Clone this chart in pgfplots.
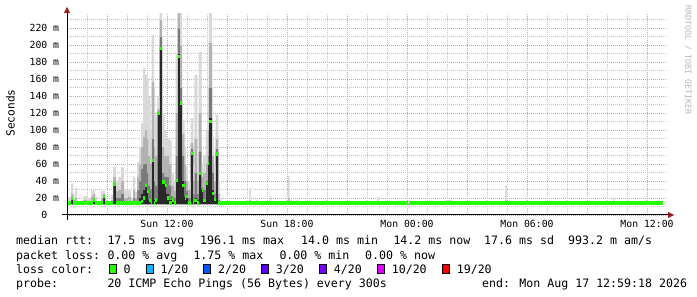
\documentclass[border=0pt]{standalone}
\usepackage{fontspec}
\setmainfont{DejaVu Sans Mono}
\usepackage{pgfplots}
\usepackage{pgfplotstable}
\pgfplotsset{compat=1.18}

% loss colours
\definecolor{loss0}{HTML}{26FF00}
\definecolor{loss1}{HTML}{00B8FF}
\definecolor{loss2}{HTML}{0059FF}
\definecolor{loss3}{HTML}{5E00FF}
\definecolor{loss4}{HTML}{7E00FF}
\definecolor{loss10}{HTML}{DD00FF}
\definecolor{loss19}{HTML}{FF0000}
% smoke shades, lightest (max) to darkest (near median)
\definecolor{smokeA}{HTML}{D8D8D8}
\definecolor{smokeB}{HTML}{B2B2B2}
\definecolor{smokeC}{HTML}{7A7A7A}
\definecolor{smokeD}{HTML}{282828}
\definecolor{gridminor}{HTML}{C4C4C4}
\definecolor{gridmajor}{HTML}{E89A9A}
\definecolor{arrowred}{HTML}{A01818}

\newcommand\axisfont{\fontsize{9.8bp}{11bp}\selectfont}
\newcommand\legfont{\fontsize{11.6bp}{13bp}\selectfont}

% t in hours since Sun 00:00; values in ms
% lo = lower edge of smoke, dk = inner quantile, m2/m1 = outer quantiles,
% hi = max ping, med = median
\pgfplotstableread{
t      lo   dk   m2   m1   hi   med
7.000  12.5 14   14   17   21   14.2
7.200  12.5 19   21   25   37   19.6
7.300  12.5 14   14   18   24   14.2
7.400  12.5 14   15   20   32   14.2
7.500  12.5 14   14   14   14   14.2
7.800  12.5 14   15   18   22   14.2
8.000  12.5 14   14   16   20   14.2
8.200  12.5 14   16   22   29   14.2
8.300  12.5 18   20   25   29   17.7
8.400  12.5 14   14   17   22   14.2
8.500  12.5 14   14   14   14   14.2
8.700  12.5 14   16   20   28   14.2
8.800  12.5 21   22   25   28   21.6
8.900  12.5 14   14   16   20   14.2
9.000  12.5 14   14   14   14   14.2
9.200  12.5 14   15   18   24   14.2
9.300  12.5 37   38   45   57   36.5
9.450  12.5 15   20   28   40   14.2
9.550  12.5 15   20   30   45   14.2
9.700  12.5 15   25   40   56   14.2
9.850  12.5 14   15   20   30   14.2
10.050 12.5 14   17   22   29   14.2
10.200 12.5 14   14   16   20   14.2
10.300 12.5 15   20   30   45   14.2
10.400 12.5 14   15   20   27   14.2
10.500 12.5 17   30   45   62   14.2
10.600 12.5 20   40   60   80   14.2
10.700 12.5 25   55   80   108  16
10.800 12.5 30   60   92   173  20
10.900 12.5 37   60   100  165  35
11.000 12.5 28   50   90   161  27.5
11.075 12.5 18   35   70   139  17
11.175 12.5 15   30   60   100  14.2
11.225 12.5 66   90   157  212  64
11.350 12.5 18   40   80   150  14.2
11.400 12.5 18   35   70   118  17.7
11.515 12.5 121  122  125  140  120
11.625 12.5 198  210  230  240  196
11.750 12.5 40   50   80   120  39
11.875 12.5 36   45   70   100  35
11.975 12.5 25   45   70   90   20
12.100 12.5 18   35   60   88   14.2
12.225 12.5 18   22   35   49   17.7
12.350 12.5 15   20   28   40   14.2
12.425 12.5 42   70   120  190  41
12.525 12.5 190  220  240  240  187
12.650 12.5 134  150  200  240  132
12.750 12.5 40   70   96   112  35
12.875 12.5 22   40   60   80   20
12.950 12.5 22   28   40   57   22
13.050 12.5 15   20   30   40   14.2
13.175 12.5 74   78   85   114  72.7
13.315 12.5 15   25   40   60   14.2
13.365 12.5 20   50   90   165  17
13.515 12.5 18   25   40   60   14.2
13.575 12.5 50   75   120  192  49
13.725 12.5 30   32   45   60   29
13.800 12.5 18   30   50   70   17
13.925 12.5 38   40   60   100  37
14.025 12.5 62   70   100  150  61
14.090 12.5 115  150  203  240  110
14.250 12.5 30   50   70   92   25
14.350 12.5 20   25   40   60   18
14.435 12.5 74   78   90   118  72
14.565 12.5 15   18   25   40   14.2
14.650 12.5 14   14   14   14   14.2
16.100 12.5 14   14   18   32   14.2
16.175 12.5 14   14   14   14   14.2
16.450 12.5 14   14   14   18   14.2
16.525 12.5 14   14   14   14   14.2
16.775 12.5 14   14   14   17   14.2
16.850 12.5 14   14   14   14   14.2
17.125 12.5 14   14   14   23   14.2
17.200 12.5 14   14   14   14   14.2
18.050 12.5 14   15   20   46   14.2
18.125 12.5 14   14   14   14   14.2
18.175 12.5 14   14   14   18   14.2
18.250 12.5 14   14   14   14   14.2
18.475 12.5 14   14   14   18   14.2
18.550 12.5 14   14   14   14   14.2
19.950 12.5 14   14   14   18   14.2
20.025 12.5 14   14   14   14   14.2
22.500 12.5 14   14   14   21   14.2
22.575 12.5 14   14   14   14   14.2
23.500 12.5 14   14   14   17   14.2
23.900 12.5 14   14   14   14   14.2
24.030 12.5 12.5 12.5 12.5 12.5 -10
24.080 12.5 14   14   14   14   14.2
25.150 12.5 14   14   14   17   14.2
25.300 12.5 14   14   14   14   14.2
25.950 12.5 14   14   14   17.5 14.2
26.250 12.5 14   14   14   14   14.2
28.900 12.5 14   14   18   35   14.2
28.975 12.5 14   14   14   14   14.2
34.300 12.5 14   14   14   20   14.2
34.375 12.5 14   14   14   14   14.2
35.000 12.5 14   14   14   18   14.2
35.075 12.5 14   14   14   14   14.2
35.950 12.5 14   14   14   18   14.2
36.025 12.5 14   14   14   14   14.2
36.800 12.5 14   14   14   14   14.2
}\rtt

\begin{document}
\begin{tikzpicture}
\path[use as bounding box, fill=white] (0bp,0bp) rectangle (697bp,297bp);

\begin{axis}[
  at={(67bp,82bp)}, anchor=south west,
  scale only axis, width=600bp, height=201.1bp,
  xmin=7, xmax=37, ymin=0, ymax=237,
  enlargelimits=false,
  axis line style={draw=none},
  major tick length=0pt, minor tick length=0pt,
  xtick={9,12,...,36},
  xticklabels={,Sun 12:00,,Sun 18:00,,Mon 00:00,,Mon 06:00,,Mon 12:00},
  minor xtick={8,10,11,13,14,16,17,19,20,22,23,25,26,28,29,31,32,34,35},
  ytick={0,20,...,220},
  yticklabels={0\phantom{\ m},20 m,40 m,60 m,80 m,100 m,120 m,140 m,160 m,180 m,200 m,220 m},
  minor ytick={10,30,...,230},
  grid=both,
  major grid style={gridmajor, line width=0.8bp, dash pattern=on 1bp off 1bp},
  minor grid style={gridminor, line width=0.8bp, dash pattern=on 1bp off 1bp},
  xticklabel style={font=\axisfont, anchor=base, inner sep=0pt, yshift=-13bp},
  yticklabel style={font=\axisfont, anchor=base east, inner sep=0pt, xshift=-7.7bp, yshift=-3.4bp},
  smoke/.style={stack plots=y, const plot, draw=none, forget plot},
]
  % smoke, stacked upwards from its lower edge
  \addplot[smoke] table[x=t, y=lo]{\rtt};
  \addplot[smoke, fill=smokeD] table[x=t, y expr=\thisrow{dk}-\thisrow{lo}]{\rtt} \closedcycle;
  \addplot[smoke, fill=smokeC] table[x=t, y expr=\thisrow{m2}-\thisrow{dk}]{\rtt} \closedcycle;
  \addplot[smoke, fill=smokeB] table[x=t, y expr=\thisrow{m1}-\thisrow{m2}]{\rtt} \closedcycle;
  \addplot[smoke, fill=smokeA] table[x=t, y expr=\thisrow{hi}-\thisrow{m1}]{\rtt} \closedcycle;

  % median, coloured by loss (no loss here)
  \addplot[loss0, line width=3.2bp, jump mark left, mark=none, stack plots=false] table[x=t, y=med]{\rtt};
\end{axis}

% axes with arrow heads
\draw[black, line width=1bp] (62bp,82bp) -- (668bp,82bp);
\fill[arrowred] (668bp,79bp) -- (674bp,82bp) -- (668bp,85bp) -- cycle;
\draw[black, line width=1bp] (67bp,77bp) -- (67bp,284bp);
\fill[arrowred] (64bp,284bp) -- (67bp,290bp) -- (70bp,284bp) -- cycle;

% unit label
\node[rotate=90, font=\fontsize{11.2bp}{13bp}\selectfont, inner sep=0pt] at (10.5bp,184bp) {Seconds};

% watermark
\node[rotate=-90, text=black!28, font=\fontsize{8.3bp}{9bp}\selectfont, inner sep=0pt] at (688bp,237bp) {RRDTOOL / TOBI OETIKER};

% legend
\begin{scope}[every node/.style={anchor=base west, inner sep=0pt, font=\legfont}]
  \node at (16bp,52bp) {median rtt:};
  \node at (107.3bp,52bp) {17.5 ms avg};
  \node at (200bp,52bp) {196.1 ms max};
  \node at (301bp,52bp) {14.0 ms min};
  \node at (393.3bp,52bp) {14.2 ms now};
  \node at (484bp,52bp) {17.6 ms sd};
  \node at (568bp,52bp) {993.2 m am/s};

  \node at (16bp,38bp) {packet loss:};
  \node at (107.3bp,38bp) {0.00 \% avg};
  \node at (193.3bp,38bp) {1.75 \% max};
  \node at (279.3bp,38bp) {0.00 \% min};
  \node at (365bp,38bp) {0.00 \% now};

  \node at (16bp,24bp) {loss color:};
  \filldraw[fill=loss0, draw=black, line width=1bp] (109.2bp,23.5bp) rectangle ++(7bp,8.5bp);
  \node at (123.3bp,24bp) {0};
  \filldraw[fill=loss1, draw=black, line width=1bp] (146.2bp,23.5bp) rectangle ++(7bp,8.5bp);
  \node at (160.3bp,24bp) {1/20};
  \filldraw[fill=loss2, draw=black, line width=1bp] (203.8bp,23.5bp) rectangle ++(7bp,8.5bp);
  \node at (217.9bp,24bp) {2/20};
  \filldraw[fill=loss3, draw=black, line width=1bp] (261.5bp,23.5bp) rectangle ++(7bp,8.5bp);
  \node at (275.6bp,24bp) {3/20};
  \filldraw[fill=loss4, draw=black, line width=1bp] (319.5bp,23.5bp) rectangle ++(7bp,8.5bp);
  \node at (333.6bp,24bp) {4/20};
  \filldraw[fill=loss10, draw=black, line width=1bp] (377.5bp,23.5bp) rectangle ++(7bp,8.5bp);
  \node at (391.6bp,24bp) {10/20};
  \filldraw[fill=loss19, draw=black, line width=1bp] (442.5bp,23.5bp) rectangle ++(7bp,8.5bp);
  \node at (456.6bp,24bp) {19/20};

  \node at (16bp,10bp) {probe:};
  \node at (107.3bp,10bp) {20 ICMP Echo Pings (56 Bytes) every 300s};
  \node at (482bp,10bp) {end: Mon Aug 17 12:59:18 2026};
\end{scope}
\end{tikzpicture}
\end{document}
